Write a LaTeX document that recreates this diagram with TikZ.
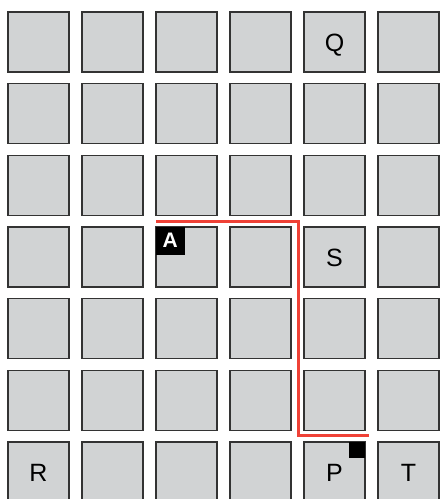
\documentclass[tikz,border=0pt]{standalone}
\usepackage{fontspec}
\setmainfont{Liberation Sans}
\usetikzlibrary{positioning,calc}
\definecolor{cellgray}{RGB}{209,211,212}
\definecolor{routered}{RGB}{239,65,54}

\begin{document}
\begin{tikzpicture}[x=1pt,y=-1pt,font=\fontsize{25}{30}\selectfont,
  cell/.style={draw=black!80,fill=cellgray,line width=1.3pt,minimum width=61pt,minimum height=60pt,inner sep=0pt,outer sep=0pt},
  letter/.style={text height=18pt,text depth=0pt,inner sep=0pt},
  route/.style={draw=routered,line width=3pt},
  tag/.style={fill=black,text=white,inner sep=0pt,outer sep=0pt}]
\useasboundingbox (0,0) rectangle (440,499);
% grid of squares
\foreach \c in {1,...,6}{
  \foreach \r in {1,...,7}{
    \node[cell] (c-\c-\r) at ({38.5+74*(\c-1)},{42+71.67*(\r-1)}) {};
  }
}
\node[letter] (q) at (c-5-1) {Q};
\node[letter] (s) at (c-5-4) {S};
\node[letter] (r) at (c-1-7) {R};
\node[letter] (p) at (c-5-7) {P};
\node[letter] (t) at (c-6-7) {T};
% route
\coordinate (start) at ([yshift=5.5pt]c-3-4.north west);
\coordinate (bend1) at ([xshift=-5.5pt,yshift=5.5pt]c-5-4.north west);
\coordinate (bend2) at ([xshift=-5.5pt,yshift=7pt]c-5-7.north west);
\coordinate (stop) at ([xshift=4pt,yshift=7pt]c-5-7.north east);
\draw[route] (start) -- (bend1) -- (bend2) -- (stop);
\node[tag,font=\bfseries\fontsize{21}{22}\selectfont,minimum width=28.5pt,minimum height=27.5pt,anchor=north west] (a) at (c-3-4.north west) {A};
\node[tag,minimum size=16pt,anchor=north east] (goal) at (c-5-7.north east) {};
\end{tikzpicture}
\end{document}
